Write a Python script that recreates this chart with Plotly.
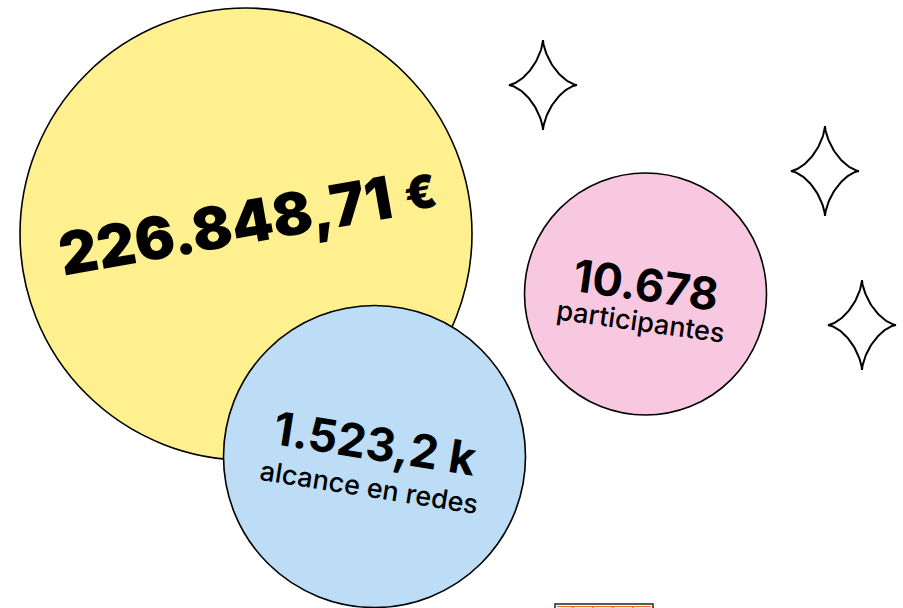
import numpy as np
import plotly.graph_objects as go

# bubble data
values = ["226.848,71", "10.678", "1.523,2 k"]
labels = ["", "participantes", "alcance en redes"]
colors = ["#fff08f", "#f8c8e0", "#bddcf5"]

# layout in pixels (y grows downward)
bubble_x = [246, 645.5, 374.5]
bubble_y = [234, 294, 456.5]
bubble_d = [452, 242, 302]

star_x = [543, 825, 862]
star_y = [85, 171, 325]

W, H = 903, 608

fig = go.Figure()

for i in range(len(values)):
    fig.add_trace(go.Scatter(
        x=[bubble_x[i]], y=[bubble_y[i]], mode="markers",
        marker=dict(size=bubble_d[i], color=colors[i],
                    line=dict(color="black", width=1.6), opacity=1),
        hoverinfo="skip", showlegend=False))

# sparkles (astroid outline)
t = np.linspace(0, 2 * np.pi, 200)
for cx, cy in zip(star_x, star_y):
    fig.add_trace(go.Scatter(
        x=cx + 34 * np.cos(t) ** 3, y=cy + 45 * np.sin(t) ** 3,
        mode="lines", line=dict(color="black", width=2),
        hoverinfo="skip", showlegend=False))

font = "Inter, Lato, sans-serif"

# yellow bubble
fig.add_annotation(x=225, y=225, text=values[0], textangle=-10, showarrow=False,
                   font=dict(family=font, size=59, color="black", weight=900))
fig.add_annotation(x=420, y=192, text="€", textangle=-10, showarrow=False,
                   font=dict(family=font, size=46, color="black", weight=900))

# pink bubble
fig.add_annotation(x=646, y=284, text=values[1], textangle=8, showarrow=False,
                   font=dict(family=font, size=45, color="black", weight=700))
fig.add_annotation(x=640, y=321, text=labels[1], textangle=8, showarrow=False,
                   font=dict(family=font, size=27, color="black", weight=500))

# blue bubble
fig.add_annotation(x=375, y=443, text=values[2], textangle=9, showarrow=False,
                   font=dict(family=font, size=46, color="black", weight=700))
fig.add_annotation(x=369, y=487, text=labels[2], textangle=9, showarrow=False,
                   font=dict(family=font, size=27, color="black", weight=500))

# small cut-off box at bottom
fig.add_shape(type="rect", x0=555, x1=653, y0=604, y1=614,
              line=dict(color="#222", width=1.5), fillcolor="white")
fig.add_shape(type="line", x0=557, x1=651, y0=606.5, y1=606.5,
              line=dict(color="#f26522", width=1.2))
for xt in [573, 593, 613, 633]:
    fig.add_shape(type="line", x0=xt, x1=xt, y0=606, y1=610,
                  line=dict(color="#f26522", width=1.2))

fig.update_xaxes(range=[0, W], visible=False, fixedrange=True)
fig.update_yaxes(range=[H, 0], visible=False, fixedrange=True)
fig.update_layout(width=W, height=H, margin=dict(l=0, r=0, t=0, b=0),
                  plot_bgcolor="white", paper_bgcolor="white")

fig.write_html("out.html", config={"displayModeBar": False},
               post_script="document.body.style.margin='0';")
